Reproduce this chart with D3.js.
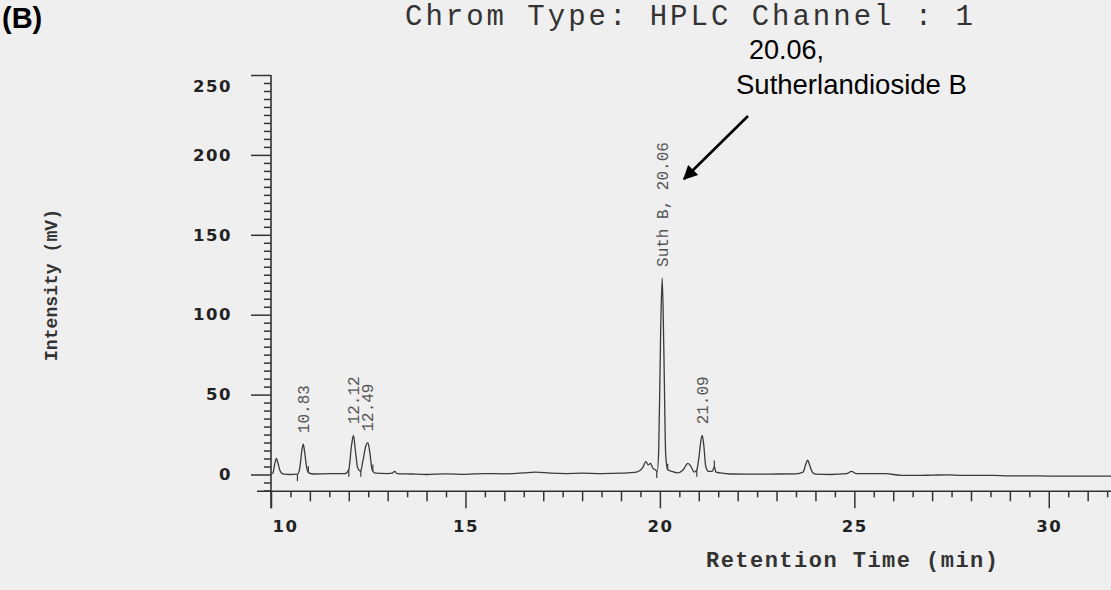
<!DOCTYPE html>
<html>
<head>
<meta charset="utf-8">
<script src="https://cdn.jsdelivr.net/npm/d3@7"></script>
<style>
  html, body { margin: 0; padding: 0; background: #efefef; }
  svg { display: block; }
</style>
</head>
<body>
<svg id="chart" width="1111" height="590"></svg>
<script>
// ---------------- DATA ----------------
const panelLabel = "(B)";
const chartTitle = "Chrom Type: HPLC Channel : 1";
const yAxisTitle = "Intensity (mV)";
const xAxisTitle = "Retention Time (min)";

const yMajorTicks = [0, 50, 100, 150, 200, 250];
const xMajorTicks = [10, 15, 20, 25, 30];

// chromatogram trace (retention time in min, intensity in mV)
const traceTime = [
  10.00, 10.05, 10.10, 10.14, 10.18, 10.24, 10.32, 10.50, 10.68, 10.74, 10.80, 10.83, 10.86, 10.92, 10.97,
  11.10, 11.50, 11.90, 12.00, 12.07, 12.12, 12.17, 12.23, 12.30, 12.36, 12.44, 12.49, 12.54, 12.60, 12.68,
  13.00, 13.12, 13.18, 13.24, 13.60, 14.00, 14.50, 15.00, 15.50, 16.00, 16.50, 16.80, 17.20, 17.60, 18.00,
  18.50, 19.00, 19.40, 19.55, 19.64, 19.70, 19.76, 19.82, 19.88, 19.93, 19.97, 20.02, 20.06, 20.10, 20.15,
  20.20, 20.30, 20.45, 20.60, 20.72, 20.80, 20.88, 20.95, 21.00, 21.06, 21.09, 21.13, 21.18, 21.25, 21.35,
  21.40, 21.44, 21.55, 21.80, 22.20, 22.60, 23.00, 23.50, 23.68, 23.76, 23.80, 23.85, 23.92, 24.00, 24.40,
  24.80, 24.93, 25.05, 25.40, 25.80, 26.20, 26.60, 27.00, 27.40, 27.80, 28.20, 28.60, 29.00, 29.50, 30.00,
  30.50, 31.00, 31.60
];
const traceIntensity = [
  0.5, 1.0, 7.0, 10.0, 7.0, 2.0, 0.3, 0.0, 0.2, 4.0, 16.0, 19.0, 15.0, 4.0, 1.0,
  0.3, 0.5, 0.5, 3.0, 18.0, 24.5, 15.0, 4.0, 2.0, 8.0, 18.0, 20.0, 14.0, 3.0, 0.8,
  0.5, 0.8, 2.0, 0.6, 0.3, 0.0, 0.4, 0.1, 0.6, 0.4, 1.0, 1.5, 0.8, 0.6, 0.8,
  0.5, 0.8, 1.5, 4.0, 8.0, 6.0, 7.0, 4.0, 3.0, 2.0, 15.0, 90.0, 123.0, 80.0, 12.0,
  3.0, 2.0, 1.0, 3.0, 7.0, 5.0, 1.5, 3.0, 10.0, 22.0, 24.5, 18.0, 5.0, 2.0, 2.0,
  5.0, 1.5, 1.0, 0.3, 0.2, 0.2, 0.3, 0.4, 1.5, 7.0, 9.0, 6.0, 1.5, 0.2, 0.0,
  0.5, 2.0, 0.5, 0.6, 0.5, -0.5, -0.6, -0.4, -0.2, -0.6, -0.5, -0.6, -0.8, -0.8, -1.0,
  -1.0, -1.0, -1.0
];

// integration event markers (vertical ticks on the trace)
const markerDownTimes = [10.68, 12.00, 12.31, 19.92, 20.95];
const markerUpTimes = [10.96, 12.62, 20.20, 21.40];

// peak labels
const peakLabelTexts = ["10.83", "12.12", "12.49", "Suth B, 20.06", "21.09"];
const peakLabelTimes = [10.83, 12.12, 12.49, 20.06, 21.09];
const peakLabelHeights = [19.0, 24.5, 20.0, 123.0, 24.5];

const annotationLines = ["20.06,", "Sutherlandioside B"];

// ---------------- CHART ----------------
const svg = d3.select("#chart");
const W = 1111, H = 590;

svg.append("rect").attr("width", W).attr("height", H).attr("fill", "#efefef");

const x = d3.scaleLinear().domain([10, 31.6]).range([271, 1111]);
const y = d3.scaleLinear().domain([0, 250]).range([474.5, 75]);

const ink = "#333";

// axis lines
svg.append("line").attr("x1", 257).attr("x2", W).attr("y1", y(-10.5)).attr("y2", y(-10.5))
  .attr("stroke", ink).attr("stroke-width", 1.6);
svg.append("line").attr("x1", x(10)).attr("x2", x(10)).attr("y1", y(250)).attr("y2", y(-10.5) + 17)
  .attr("stroke", ink).attr("stroke-width", 1.6);

// y minor ticks
const yMinor = d3.range(-10, 251, 5).filter(v => v % 50 !== 0);
const yMinorAxis = d3.axisLeft(y).tickValues(yMinor).tickSize(7).tickFormat("");
svg.append("g").attr("transform", `translate(${x(10)},0)`).call(yMinorAxis)
  .call(g => g.select(".domain").remove())
  .call(g => g.selectAll("line").attr("stroke", ink).attr("stroke-width", 1.5));

// y major ticks
const yMajorAxis = d3.axisLeft(y).tickValues(yMajorTicks).tickSize(20).tickPadding(19).tickFormat(d3.format("d"));
svg.append("g").attr("transform", `translate(${x(10)},0)`).call(yMajorAxis)
  .call(g => g.select(".domain").remove())
  .call(g => g.selectAll("line").attr("stroke", ink).attr("stroke-width", 1.5))
  .call(g => g.selectAll("text").attr("fill", "#222")
    .attr("font-family", "'DejaVu Sans', sans-serif").attr("font-weight", "bold")
    .attr("font-size", 16.5).attr("letter-spacing", 1.5)
    .attr("dy", d => d === 250 ? "1.0em" : "0.32em"));

// x ticks
const x0 = y(-10.5);
const xHalf = d3.range(10.5, 31.6, 1);
const xInt = d3.range(11, 31.6, 1).filter(v => v % 5 !== 0);
svg.append("g").attr("transform", `translate(0,${x0})`)
  .call(d3.axisBottom(x).tickValues(xHalf).tickSize(6).tickFormat(""))
  .call(g => g.select(".domain").remove())
  .call(g => g.selectAll("line").attr("stroke", ink).attr("stroke-width", 1.5));
svg.append("g").attr("transform", `translate(0,${x0})`)
  .call(d3.axisBottom(x).tickValues(xInt).tickSize(10).tickFormat(""))
  .call(g => g.select(".domain").remove())
  .call(g => g.selectAll("line").attr("stroke", ink).attr("stroke-width", 1.5));
svg.append("g").attr("transform", `translate(0,${x0})`)
  .call(d3.axisBottom(x).tickValues(xMajorTicks).tickSize(17).tickPadding(12).tickFormat(d3.format("d")))
  .call(g => g.select(".domain").remove())
  .call(g => g.selectAll("line").attr("stroke", ink).attr("stroke-width", 1.5))
  .call(g => g.selectAll("text").attr("fill", "#222")
    .attr("font-family", "'DejaVu Sans', sans-serif").attr("font-weight", "bold")
    .attr("font-size", 16.5).attr("letter-spacing", 1.5)
    .attr("text-anchor", (d, i) => i === 0 ? "start" : "middle")
    .attr("dx", (d, i) => i === 0 ? 1 : 0));

// trace
const pts = traceTime.map((t, i) => [t, traceIntensity[i]]);
const line = d3.line().x(d => x(d[0])).y(d => y(d[1])).curve(d3.curveMonotoneX);
svg.append("path").datum(pts).attr("d", line)
  .attr("fill", "none").attr("stroke", "#3a3a3a").attr("stroke-width", 1.3).attr("stroke-linejoin", "round");

// integration markers
function traceAt(t) {
  const i = d3.bisectLeft(traceTime, t);
  if (i <= 0) return traceIntensity[0];
  if (i >= traceTime.length) return traceIntensity[traceTime.length - 1];
  const t0 = traceTime[i - 1], t1 = traceTime[i];
  const f = (t - t0) / (t1 - t0);
  return traceIntensity[i - 1] + f * (traceIntensity[i] - traceIntensity[i - 1]);
}
svg.append("g").selectAll("line").data(markerDownTimes).join("line")
  .attr("x1", d => x(d)).attr("x2", d => x(d))
  .attr("y1", d => y(traceAt(d))).attr("y2", d => y(traceAt(d)) + 7)
  .attr("stroke", "#3a3a3a").attr("stroke-width", 1.2);
svg.append("g").selectAll("line").data(markerUpTimes).join("line")
  .attr("x1", d => x(d)).attr("x2", d => x(d))
  .attr("y1", d => y(traceAt(d))).attr("y2", d => y(traceAt(d)) - 6)
  .attr("stroke", "#3a3a3a").attr("stroke-width", 1.2);

// peak labels (rotated)
svg.append("g").selectAll("text").data(peakLabelTexts).join("text")
  .attr("transform", (d, i) => `translate(${x(peakLabelTimes[i])},${y(peakLabelHeights[i]) - 11}) rotate(-90)`)
  .attr("dy", "0.35em")
  .attr("fill", "#555")
  .attr("font-family", "'Liberation Mono', 'Courier New', monospace")
  .attr("font-size", 16)
  .text(d => d);

// title
svg.append("text").attr("x", 405).attr("y", 25)
  .attr("font-family", "'Liberation Mono', 'Courier New', monospace")
  .attr("font-size", 29).attr("fill", "#333")
  .attr("textLength", 568).attr("lengthAdjust", "spacing")
  .text(chartTitle);

// panel label
svg.append("text").attr("x", 2).attr("y", 28)
  .attr("font-family", "'Liberation Sans', Arial, sans-serif")
  .attr("font-weight", "bold").attr("font-size", 29).attr("fill", "#000")
  .text(panelLabel);

// axis titles
svg.append("text").attr("transform", "translate(57,285) rotate(-90)")
  .attr("text-anchor", "middle")
  .attr("font-family", "'Liberation Mono', 'Courier New', monospace")
  .attr("font-weight", "bold").attr("font-size", 18).attr("fill", "#333")
  .attr("textLength", 152).attr("lengthAdjust", "spacing")
  .text(yAxisTitle);

svg.append("text").attr("x", 706).attr("y", 567)
  .attr("font-family", "'Liberation Mono', 'Courier New', monospace")
  .attr("font-weight", "bold").attr("font-size", 22).attr("fill", "#333")
  .attr("textLength", 292).attr("lengthAdjust", "spacing")
  .text(xAxisTitle);

// annotation
svg.append("text").attr("x", 749).attr("y", 59)
  .attr("font-family", "'Liberation Sans', Arial, sans-serif")
  .attr("font-size", 27).attr("fill", "#000").text(annotationLines[0]);
svg.append("text").attr("x", 736).attr("y", 94)
  .attr("font-family", "'Liberation Sans', Arial, sans-serif")
  .attr("font-size", 27.5).attr("fill", "#000").text(annotationLines[1]);

const defs = svg.append("defs");
defs.append("marker").attr("id", "arrowhead").attr("viewBox", "0 0 10 10")
  .attr("refX", 9).attr("refY", 5).attr("markerWidth", 6.5).attr("markerHeight", 5.5)
  .attr("markerUnits", "strokeWidth").attr("orient", "auto")
  .append("path").attr("d", "M0,0 L10,5 L0,10 Z").attr("fill", "#000");
svg.append("line").attr("x1", 748).attr("y1", 116).attr("x2", 684).attr("y2", 179)
  .attr("stroke", "#000").attr("stroke-width", 2.6).attr("marker-end", "url(#arrowhead)");
</script>
</body>
</html>
